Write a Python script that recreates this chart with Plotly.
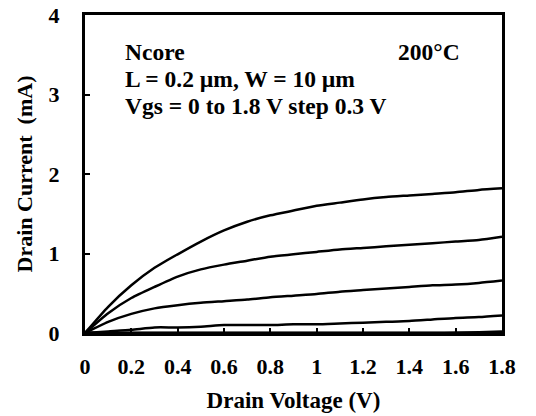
import plotly.graph_objects as go

vds = [0, 0.1, 0.2, 0.3, 0.4, 0.5, 0.6, 0.7, 0.8, 0.9, 1.0, 1.1, 1.2, 1.3, 1.4, 1.5, 1.6, 1.7, 1.8]
id_vgs18 = [0, 0.33, 0.60, 0.82, 0.99, 1.15, 1.29, 1.40, 1.48, 1.54, 1.60, 1.64, 1.68, 1.71, 1.73, 1.75, 1.77, 1.80, 1.82]
id_vgs15 = [0, 0.25, 0.44, 0.58, 0.71, 0.80, 0.86, 0.91, 0.96, 0.99, 1.02, 1.05, 1.07, 1.09, 1.11, 1.13, 1.15, 1.17, 1.21]
id_vgs12 = [0, 0.14, 0.24, 0.31, 0.35, 0.38, 0.40, 0.42, 0.45, 0.47, 0.49, 0.52, 0.54, 0.56, 0.58, 0.60, 0.61, 0.63, 0.66]
id_vgs09 = [0, 0.02, 0.04, 0.07, 0.07, 0.08, 0.10, 0.10, 0.10, 0.11, 0.11, 0.12, 0.13, 0.14, 0.15, 0.17, 0.19, 0.20, 0.22]
id_vgs06 = [0, 0, 0, 0, 0, 0, 0, 0, 0, 0, 0, 0, 0, 0, 0, 0, 0.003, 0.008, 0.02]
id_vgs03 = [0] * 19
id_vgs00 = [0] * 19

x_ticks = [0, 0.2, 0.4, 0.6, 0.8, 1.0, 1.2, 1.4, 1.6, 1.8]
x_tick_labels = ["0", "0.2", "0.4", "0.6", "0.8", "1", "1.2", "1.4", "1.6", "1.8"]
y_ticks = [0, 1, 2, 3, 4]

FONT = "Times New Roman, Liberation Serif, DejaVu Serif, serif"

fig = go.Figure()
for ys in [id_vgs00, id_vgs03, id_vgs06, id_vgs09, id_vgs12, id_vgs15, id_vgs18]:
    fig.add_trace(go.Scatter(x=vds, y=ys, mode="lines",
                             line=dict(color="black", width=2.5, shape="spline", smoothing=0.6),
                             showlegend=False, cliponaxis=False))

axis_common = dict(showline=True, linecolor="black", linewidth=3, mirror=True,
                   ticks="inside", ticklen=5, tickwidth=2, tickcolor="black",
                   showgrid=False, zeroline=False, automargin=False,
                   tickfont=dict(family=FONT, size=22, color="black", weight="bold"))

fig.update_layout(
    width=536, height=416,
    margin=dict(l=85, r=34, t=15, b=83),
    plot_bgcolor="white", paper_bgcolor="white",
    font=dict(family=FONT),
    xaxis=dict(range=[0, 1.8], tickvals=x_ticks, ticktext=x_tick_labels,
               title=dict(text="Drain Voltage (V)", font=dict(family=FONT, size=23, color="black", weight="bold"), standoff=14),
               ticklabelstandoff=12, **axis_common),
    yaxis=dict(range=[0, 4], tickvals=y_ticks,
               title=dict(text="Drain Current&nbsp;&nbsp;(mA)", font=dict(family=FONT, size=22, color="black", weight="bold"), standoff=10),
               ticklabelstandoff=18, **axis_common),
)

ann_font = dict(family=FONT, size=23.5, color="black", weight="bold")
for txt, x, y in [("Ncore", 0.163, 3.54), ("L = 0.2 µm, W = 10 µm", 0.163, 3.20), ("Vgs = 0 to 1.8 V step 0.3 V", 0.163, 2.85), ("200°C", 1.343, 3.54)]:
    fig.add_annotation(x=x, y=y, text=txt, showarrow=False, xanchor="left", yanchor="middle", font=ann_font)

fig.write_html("out.html")
